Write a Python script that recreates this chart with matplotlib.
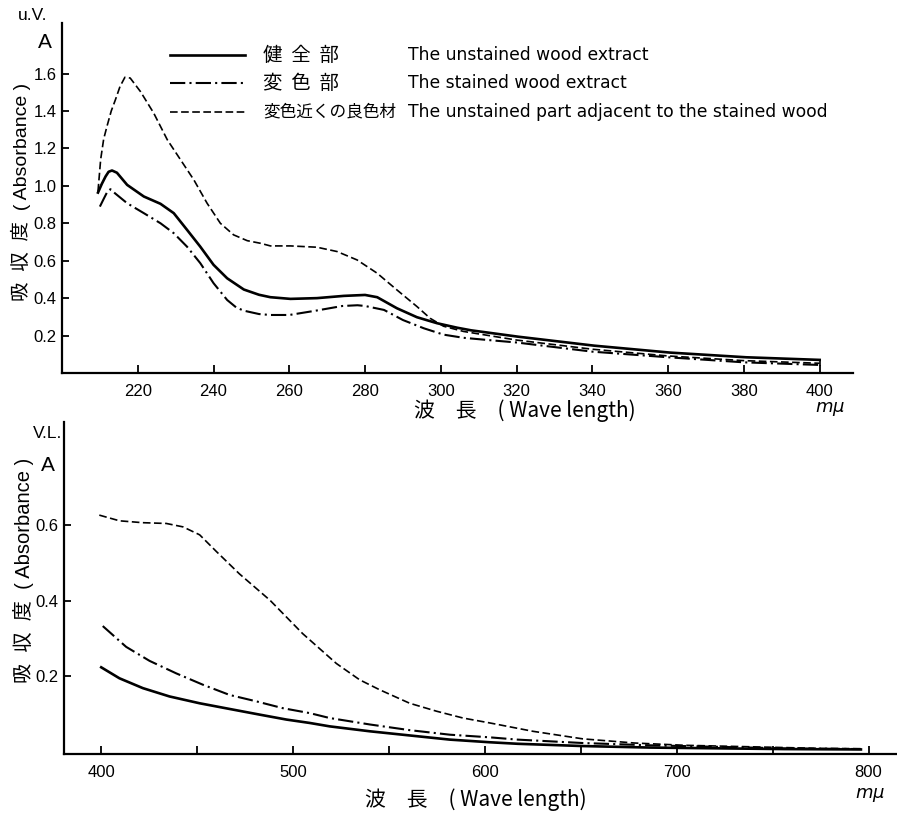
import matplotlib
matplotlib.use("Agg")
import matplotlib.pyplot as plt
from matplotlib.lines import Line2D

plt.rcParams['font.family'] = ['Liberation Sans', 'Noto Sans CJK JP', 'DejaVu Sans']
plt.rcParams['lines.scale_dashes'] = False

# ---------------- data: UV region ----------------
uv_wl_healthy = [209.5, 210.5, 211.5, 212.3, 213.2, 214.5, 217.2, 221.6, 226, 229.5, 233, 236.5,
                 240, 243.6, 248, 252, 255, 260.3, 267.3, 274.4, 280, 283.2, 288.4, 293.7,
                 299, 304.3, 308, 320.4, 340.5, 360.5, 380.6, 400]
uv_a_healthy = [0.964, 1.01, 1.05, 1.075, 1.082, 1.07, 1.005, 0.943, 0.904, 0.854, 0.765, 0.675,
                0.578, 0.506, 0.446, 0.418, 0.405, 0.396, 0.400, 0.412, 0.417, 0.405, 0.346, 0.298,
                0.266, 0.242, 0.228, 0.194, 0.146, 0.109, 0.084, 0.070]

uv_wl_stained = [210, 211, 212, 212.8, 214, 217.2, 221.6, 226, 229.5, 233, 236.5, 240, 243.6,
                 246, 248, 252, 255, 260, 267, 274, 278, 280, 285, 290, 295.5, 300.7, 306,
                 312, 320, 340, 360, 380, 400]
uv_a_stained = [0.889, 0.93, 0.97, 0.982, 0.96, 0.907, 0.854, 0.800, 0.747, 0.675, 0.587, 0.480, 0.390,
                0.350, 0.333, 0.315, 0.310, 0.310, 0.333, 0.358, 0.362, 0.358, 0.337, 0.283, 0.239, 0.205, 0.188,
                0.177, 0.163, 0.114, 0.084, 0.057, 0.043]

uv_wl_adjacent = [209.5, 210.2, 211, 211.9, 213, 214.1, 215.3, 216.6, 218, 220.7, 224.2, 227.8,
                  231.3, 234.8, 238.3, 241.8, 245.3, 248.9, 252.4, 255, 260.3, 267.3, 272.6,
                  277.9, 283.2, 288.4, 293.7, 297.2, 300.7, 306, 320, 340, 360, 380, 400]
uv_a_adjacent = [0.970, 1.14, 1.25, 1.32, 1.40, 1.46, 1.53, 1.58, 1.576, 1.504, 1.389, 1.246,
                 1.139, 1.032, 0.907, 0.800, 0.738, 0.707, 0.693, 0.679, 0.679, 0.672, 0.649,
                 0.604, 0.533, 0.444, 0.355, 0.292, 0.250, 0.222, 0.176, 0.127, 0.091, 0.066, 0.052]

uv_xticks = [220, 240, 260, 280, 300, 320, 340, 360, 380, 400]
uv_yticks = [0.2, 0.4, 0.6, 0.8, 1.0, 1.2, 1.4, 1.6]
uv_yticklabels = ['0.2', '0.4', '0.6', '0.8', '1.0', '1.2', '1.4', '1.6']

# ---------------- data: visible region ----------------
vl_wl_healthy = [400, 409.5, 421.7, 435.6, 451.3, 466.9, 482.6, 496.5, 508.7, 519.1, 540, 560.8,
                 581.7, 602.6, 617, 651, 686, 721, 756, 796]
vl_a_healthy = [0.224, 0.195, 0.169, 0.147, 0.129, 0.114, 0.099, 0.086, 0.077, 0.068, 0.055, 0.044,
                0.033, 0.026, 0.022, 0.016, 0.012, 0.010, 0.008, 0.007]

vl_wl_stained = [400.8, 413, 425.2, 439.1, 453, 466.9, 480.9, 494.7, 508.7, 519.1, 540, 560.8,
                 581.7, 602.6, 617, 651, 686, 721, 756, 796]
vl_a_stained = [0.333, 0.278, 0.241, 0.208, 0.178, 0.151, 0.134, 0.116, 0.103, 0.090, 0.073, 0.058,
                0.046, 0.039, 0.033, 0.024, 0.018, 0.014, 0.010, 0.008]

vl_wl_adjacent = [399, 409.5, 421.7, 433.9, 442.6, 451.3, 460, 472, 488, 505, 522.6, 534.7,
                  545, 560.8, 574.8, 588.6, 602.6, 625, 651, 678, 704, 739, 773, 796]
vl_a_adjacent = [0.626, 0.611, 0.606, 0.604, 0.595, 0.574, 0.530, 0.471, 0.401, 0.313, 0.234, 0.191,
                 0.165, 0.129, 0.108, 0.090, 0.077, 0.055, 0.035, 0.024, 0.018, 0.014, 0.010, 0.009]

vl_xticks = [400, 500, 600, 700, 800]
vl_xminor = [450, 550, 650, 750]
vl_yticks = [0.2, 0.4, 0.6]

legend_jp = ['健  全  部', '変  色  部', '変色近くの良色材']
legend_en = ['The unstained wood extract', 'The stained wood extract',
             'The unstained part adjacent to the stained wood']

# ---------------- styles ----------------
W, H = 897, 813
solid_kw = dict(color='black', lw=1.9, linestyle='-')
dashdot_kw = dict(color='black', lw=1.5, linestyle=(0, (11, 3, 1.5, 3)))
dashed_kw = dict(color='black', lw=1.2, linestyle=(0, (5.5, 2.5)))
legend_jp_sizes = [14, 14, 12]

fig = plt.figure(figsize=(W / 100, H / 100), dpi=100)


def px_axes(l, t, r, b):
    return fig.add_axes([l / W, 1 - b / H, (r - l) / W, (b - t) / H])


def ftext(x, y, s, **kw):
    fig.text(x / W, 1 - y / H, s, **kw)


def style_axes(ax):
    for s in ['top', 'right']:
        ax.spines[s].set_visible(False)
    for s in ['left', 'bottom']:
        ax.spines[s].set_linewidth(1.6)
    ax.tick_params(axis='both', which='both', direction='in', width=1.3, labelsize=12)
    ax.tick_params(axis='x', which='major', length=6, pad=8)
    ax.tick_params(axis='y', which='major', length=5, pad=4)


# ---------- top (UV) ----------
ax1 = px_axes(62, 23, 853, 373)
ax1.plot(uv_wl_healthy, uv_a_healthy, **solid_kw)
ax1.plot(uv_wl_stained, uv_a_stained, **dashdot_kw)
ax1.plot(uv_wl_adjacent, uv_a_adjacent, **dashed_kw)
ends = [uv_a_healthy[-1], uv_a_stained[-1], uv_a_adjacent[-1]]
ax1.plot([uv_wl_healthy[-1]] * 2, [min(ends), max(ends)], color='black', lw=1.2)
ax1.set_xlim(200, 408.8)
ax1.set_ylim(0, 1.87)
ax1.set_xticks(uv_xticks)
ax1.set_yticks(uv_yticks)
ax1.set_yticklabels(uv_yticklabels)
style_axes(ax1)

# ---------- bottom (VL) ----------
ax2 = px_axes(64, 422, 897, 754)
ax2.plot(vl_wl_healthy, vl_a_healthy, **solid_kw)
ax2.plot(vl_wl_stained, vl_a_stained, **dashdot_kw)
ax2.plot(vl_wl_adjacent, vl_a_adjacent, **dashed_kw)
ax2.set_xlim(380.6, 814.8)
ax2.set_ylim(-0.005, 0.872)
ax2.set_xticks(vl_xticks)
ax2.set_xticks(vl_xminor, minor=True)
ax2.set_yticks(vl_yticks)
style_axes(ax2)
ax2.tick_params(axis='x', which='minor', length=6, width=1.3)

# ---------- legend (drawn manually) ----------
leg_y = [55, 83, 112]
for y, kw in zip(leg_y, [solid_kw, dashdot_kw, dashed_kw]):
    fig.add_artist(Line2D([170 / W, 245 / W], [1 - y / H, 1 - y / H], **kw))
for y, jp, en, fs in zip(leg_y, legend_jp, legend_en, legend_jp_sizes):
    ftext(263, y, jp, fontsize=fs, va='center', ha='left', family=['Noto Sans CJK JP'])
    ftext(408, y, en, fontsize=12.3, va='center', ha='left', family=['DejaVu Sans'])

# ---------- labels ----------
ylab = '吸  収  度  ( Absorbance )'
ftext(21, 192, ylab, rotation=90, fontsize=14, va='center', ha='center',
      family=['Liberation Sans', 'Noto Sans CJK JP'])
ftext(24, 570, ylab, rotation=90, fontsize=14.5, va='center', ha='center',
      family=['Liberation Sans', 'Noto Sans CJK JP'])

ftext(525, 411, '波　長　( Wave length)', fontsize=15, va='center', ha='center',
      family=['Noto Sans CJK JP'])
ftext(476, 800, '波　長　( Wave length)', fontsize=15, va='center', ha='center',
      family=['Noto Sans CJK JP'])

ftext(33, 15, 'u.V.', fontsize=12.5, va='center', ha='center')
ftext(45, 43, 'A', fontsize=15, va='center', ha='center')
ftext(48, 433, 'V.L.', fontsize=12.5, va='center', ha='center')
ftext(48, 465, 'A', fontsize=15, va='center', ha='center')

ftext(830, 409, r'$m\mu$', fontsize=13, va='center', ha='center')
ftext(870, 795, r'$m\mu$', fontsize=13, va='center', ha='center')

fig.savefig('out.png', dpi=100, facecolor='white')
